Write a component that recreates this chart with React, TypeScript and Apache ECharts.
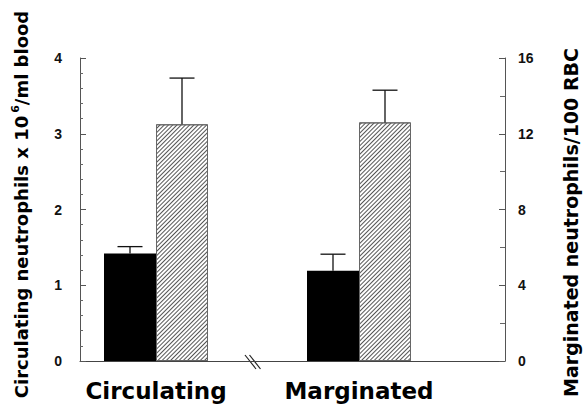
import React, { useEffect, useRef } from "react";
import * as echarts from "echarts";

const categories = ["Circulating", "Marginated"];
// black bars, left axis (x 10^6/ml blood)
const blackMeans = [1.42, 1.19];
const blackErr = [0.09, 0.22];
// hatched bars, right axis (/100 RBC)
const hatchMeans = [12.5, 12.6];
const hatchErr = [2.44, 1.7];

const BAR_W = 52;
const FONT = "'Liberation Sans', Arial, sans-serif";
const WIDE = "'DejaVu Sans', sans-serif";

export default function App() {
  const ref = useRef<HTMLDivElement>(null);
  useEffect(() => {
    document.body.style.margin = "0";
    const chart = echarts.init(ref.current!, null, { renderer: "svg" });
    const errRender = (side: number) => (params: any, api: any) => {
      const x = api.value(0);
      const v = api.value(1);
      const e = api.value(2);
      const base = api.coord([x, v]);
      const top = api.coord([x, v + e]);
      const cx = base[0] + side * (BAR_W / 2);
      const style = { stroke: "#111", lineWidth: 1.3 };
      return {
        type: "group",
        children: [
          { type: "line", shape: { x1: cx, y1: base[1], x2: cx, y2: top[1] }, style },
          { type: "line", shape: { x1: cx - 12.5, y1: top[1], x2: cx + 12.5, y2: top[1] }, style },
        ],
      };
    };
    const axisLabelStyle = { fontFamily: FONT, fontWeight: "bold", fontSize: 14, color: "#111" };
    chart.setOption({
      animation: false,
      backgroundColor: "#fff",
      grid: [
        { left: 80, right: 78, top: 58, bottom: 46, outerBoundsMode: "none", containLabel: false },
        { left: 54.5, right: 122.5, top: 58, bottom: 46, outerBoundsMode: "none", containLabel: false },
      ],
      xAxis: [
        {
          gridIndex: 0, type: "value", min: 0, max: 1,
          axisLine: { show: true, onZero: false, lineStyle: { color: "#444", width: 1 } },
          axisTick: { show: false }, axisLabel: { show: false }, splitLine: { show: false },
        },
        {
          gridIndex: 1, type: "category", data: categories,
          axisLine: { show: false }, axisTick: { show: false },
          axisLabel: { fontFamily: WIDE, fontWeight: "bold", fontSize: 23, color: "#000", margin: 18 },
        },
      ],
      yAxis: [
        {
          gridIndex: 0, type: "value", min: 0, max: 4, interval: 1, position: "left",
          axisLine: { show: true, lineStyle: { color: "#555", width: 1 } },
          axisTick: { show: true, inside: true, length: 6, lineStyle: { color: "#555" } },
          minorTick: { show: true, splitNumber: 5, length: 3, lineStyle: { color: "#666" } },
          axisLabel: { ...axisLabelStyle, margin: 18 },
          splitLine: { show: false },
          name: "{a|Circulating neutrophils x 10}{s|6}{a|/ml blood}",
          nameLocation: "middle", nameRotate: 90, nameGap: 47,
          nameTextStyle: {
            padding: [0, 0, 0, 10],
            rich: {
              a: { fontFamily: WIDE, fontWeight: "bold", fontSize: 18, color: "#000" },
              s: { fontFamily: WIDE, fontWeight: "bold", fontSize: 11, color: "#000", verticalAlign: "top", padding: [0, 0, 12, 3] },
            },
          },
        },
        {
          gridIndex: 0, type: "value", min: 0, max: 16, interval: 4, position: "right",
          axisLine: { show: true, lineStyle: { color: "#555", width: 1 } },
          axisTick: { show: true, inside: true, length: 6, lineStyle: { color: "#555" } },
          minorTick: { show: true, splitNumber: 2, length: 5, lineStyle: { color: "#666" } },
          axisLabel: { ...axisLabelStyle, margin: 13 },
          splitLine: { show: false },
          name: "Marginated neutrophils/100 RBC",
          nameLocation: "middle", nameRotate: 90, nameGap: 56,
          nameTextStyle: { fontFamily: WIDE, fontWeight: "bold", fontSize: 19, color: "#000", padding: [0, 26, 0, 0] },
        },
        { gridIndex: 1, type: "value", min: 0, max: 4, show: false },
        { gridIndex: 1, type: "value", min: 0, max: 16, show: false },
      ],
      series: [
        {
          type: "bar", xAxisIndex: 1, yAxisIndex: 2, data: blackMeans,
          barWidth: BAR_W, barGap: "0%",
          itemStyle: { color: "#000" },
        },
        {
          type: "bar", xAxisIndex: 1, yAxisIndex: 3, data: hatchMeans,
          barWidth: BAR_W, barGap: "0%",
          itemStyle: {
            color: "#fff", borderColor: "#666", borderWidth: 1,
            decal: {
              symbol: "rect", symbolSize: 1, color: "#555",
              dashArrayX: [1, 0], dashArrayY: [1, 2], rotation: -Math.PI / 4,
            },
          },
        },
        {
          type: "custom", xAxisIndex: 1, yAxisIndex: 2, z: 5,
          data: categories.map((_, i) => [i, blackMeans[i], blackErr[i]]),
          renderItem: errRender(-1),
        },
        {
          type: "custom", xAxisIndex: 1, yAxisIndex: 3, z: 5,
          data: categories.map((_, i) => [i, hatchMeans[i], hatchErr[i]]),
          renderItem: errRender(1),
        },
      ],
      graphic: [
        { type: "line", shape: { x1: 245, y1: 355, x2: 256, y2: 369 }, style: { stroke: "#222", lineWidth: 1.2 } },
        { type: "line", shape: { x1: 249.5, y1: 355, x2: 260.5, y2: 369 }, style: { stroke: "#222", lineWidth: 1.2 } },
      ],
    });
    return () => chart.dispose();
  }, []);
  return <div ref={ref} style={{ width: 583, height: 407 }} />;
}
